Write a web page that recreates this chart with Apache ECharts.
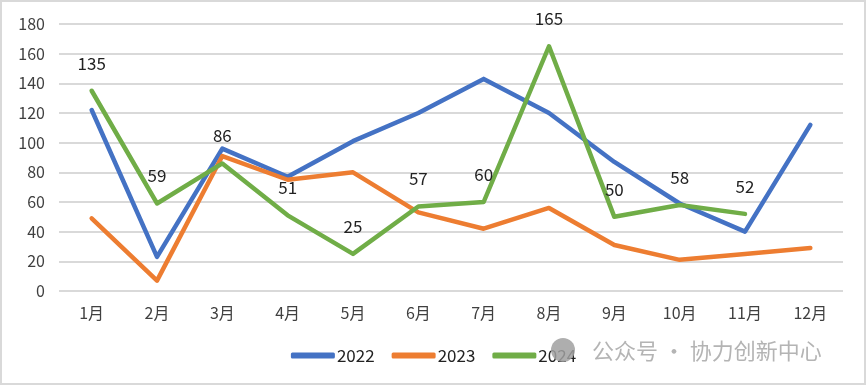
<!DOCTYPE html>
<html>
<head>
<meta charset="utf-8">
<script src="https://cdn.jsdelivr.net/npm/echarts@6/dist/echarts.min.js"></script>
<style>
html,body{margin:0;padding:0;background:#fff;}
#c{width:867px;height:386px;}
</style>
</head>
<body>
<div id="c"></div>
<script>
const categories = ['1月','2月','3月','4月','5月','6月','7月','8月','9月','10月','11月','12月'];
const s2022 = [122, 23, 96, 77, 101, 120, 143, 120, 87, 59, 40, 112];
const s2023 = [49, 7, 91, 75, 80, 53, 42, 56, 31, 21, 25, 29];
const s2024 = [135, 59, 86, 51, 25, 57, 60, 165, 50, 58, 52, null];
const yTicks = {min: 0, max: 180, interval: 20};
const watermark = '公众号 · 协力创新中心';

const chart = echarts.init(document.getElementById('c'));
const font = '"Microsoft YaHei","Noto Sans CJK SC","Liberation Sans",sans-serif';
function line(name, data, color, withLabel) {
  return {
    name, type: 'line', data, symbol: 'circle', symbolSize: 0, showSymbol: true, smooth: false,
    lineStyle: {width: 4.5, color, cap: 'round', join: 'round'},
    itemStyle: {color},
    label: withLabel ? {show: true, position: 'top', distance: 19, fontSize: 17, color: '#222', fontFamily: font} : {show: false},
    labelLayout: {hideOverlap: false},
    z: 2
  };
}
chart.setOption({
  animation: false,
  backgroundColor: '#fff',
  textStyle: {fontFamily: font},
  grid: {left: 59, right: 24, top: 24, bottom: 95, containLabel: false},
  xAxis: {
    type: 'category', data: categories, boundaryGap: true,
    axisLine: {show: false}, axisTick: {show: false},
    axisLabel: {fontSize: 16, color: '#404040', margin: 14, fontFamily: font}
  },
  yAxis: {
    type: 'value', min: yTicks.min, max: yTicks.max, interval: yTicks.interval,
    axisLine: {show: false}, axisTick: {show: false},
    axisLabel: {fontSize: 16, color: '#404040', margin: 14, fontFamily: font},
    splitLine: {lineStyle: {color: '#d9d9d9', width: 2}}
  },
  legend: {
    data: ['2022','2023','2024'], left: 'center', top: 342,
    itemWidth: 44, itemHeight: 6, itemGap: 17,
    icon: 'roundRect',
    textStyle: {fontSize: 17, color: '#222', fontFamily: font, padding: [0,0,0,-3]}
  },
  series: [
    line('2022', s2022, '#4472C4', false),
    line('2023', s2023, '#ED7D31', false),
    line('2024', s2024, '#70AD47', true)
  ],
  graphic: [
    {type: 'rect', shape: {x: 1, y: 1, width: 864, height: 383}, style: {fill: 'none', stroke: '#d9d9d9', lineWidth: 2}, silent: true, z: 0},
    {type: 'circle', shape: {cx: 563, cy: 350, r: 12}, style: {fill: 'rgba(160,160,160,0.85)'}, z: 100},
    {type: 'text', left: 592, top: 340, style: {text: watermark, fontSize: 22, fill: '#b4b4b4', fontFamily: font}, z: 100}
  ]
});
</script>
</body>
</html>
